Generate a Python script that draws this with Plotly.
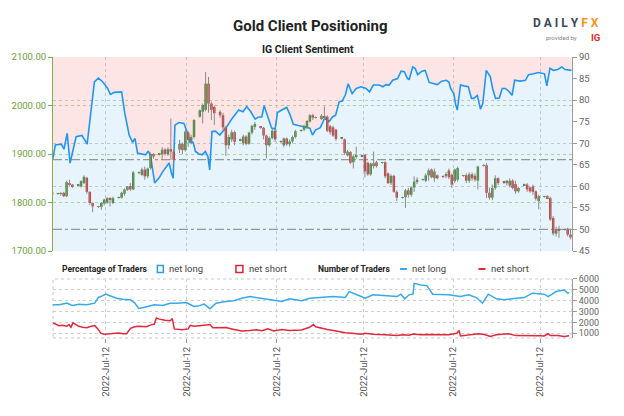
import pandas as pd
import plotly.graph_objects as go

FONT = "Roboto, Lato, sans-serif"

# ---------------- data ----------------
start_session = "2022-01-14"
end_session = "2022-07-12"

opens = [1821,
 1818,1818,1820,1813,1840,1837,
 1836,1833,1840,1851,1822,1799,
 1791,1791,1798,1800,1807,1799,
 1810,1810,1818,1826,1834,1827,
 1861,1857,1868,1854,1871,1900,
 1899,1900,1909,1900,1910,1905,
 1909,1921,1908,1944,1925,1935,
 1977,1987,1991,2045,2004,1997,
 1987,1980,1955,1918,1930,1945,
 1928,1922,1936,1921,1944,1956,
 1956,1954,1938,1918,1933,1948,
 1926,1918,1932,1920,1926,1935,
 1948,1950,1955,1967,1980,1975,
 1972,1977,1977,1957,1955,1950,
 1932,1930,1897,1904,1883,1895,
 1895,1898,1882,1858,1875,1883,
 1882,1883,1860,1840,1855,1822,
 1810,1811,1825,1816,1831,1843,
 1847,1845,1856,1868,1850,1856,
 1854,1855,1866,1857,1844,1847,
 1855,1856,1845,1858,1855,1845,
 1876,1877,1820,1810,1830,1850,
 1841,1845,1835,1845,1838,1823,
 1836,1837,1831,1833,1823,1803,
 1812,1813,1809,1768,1736,1745,
 1744,1746,1734]

highs = [1824,
 1820,1822,1822,1845,1847,1838,
 1838,1846,1856,1853,1823,1800,
 1793,1801,1808,1811,1811,1812,
 1812,1822,1829,1834,1840,1865,
 1864,1872,1874,1872,1903,1902,
 1902,1914,1912,1914,1973,1908,
 1929,1924,1950,1947,1940,1972,
 1992,2004,2069,2059,2008,2000,
 1990,1985,1958,1940,1950,1948,
 1932,1940,1939,1946,1960,1966,
 1958,1956,1940,1936,1952,1951,
 1928,1934,1934,1930,1938,1950,
 1951,1960,1970,1982,1983,1977,
 1982,1998,1980,1960,1958,1952,
 1934,1932,1908,1906,1898,1915,
 1897,1900,1884,1882,1905,1886,
 1884,1885,1862,1858,1857,1825,
 1812,1828,1830,1834,1854,1852,
 1849,1860,1870,1870,1870,1858,
 1856,1863,1870,1860,1870,1874,
 1857,1860,1862,1862,1860,1876,
 1879,1881,1831,1837,1856,1852,
 1845,1846,1850,1848,1845,1832,
 1839,1840,1833,1837,1825,1816,
 1814,1815,1812,1772,1750,1752,
 1746,1748,1745]

lows = [1813,
 1816,1814,1811,1811,1833,1830,
 1834,1831,1838,1818,1795,1780,
 1789,1785,1794,1797,1792,1797,
 1808,1808,1814,1824,1824,1825,
 1858,1855,1847,1850,1868,1890,
 1897,1888,1897,1896,1888,1883,
 1902,1900,1905,1915,1920,1932,
 1975,1963,1988,1985,1970,1960,
 1975,1950,1896,1910,1925,1918,
 1926,1918,1918,1919,1940,1950,
 1952,1930,1891,1915,1930,1925,
 1922,1914,1917,1915,1922,1932,
 1946,1947,1952,1965,1970,1973,
 1970,1970,1945,1940,1935,1927,
 1930,1898,1895,1879,1870,1890,
 1893,1852,1855,1855,1870,1872,
 1880,1850,1838,1836,1820,1803,
 1808,1789,1810,1812,1822,1838,
 1845,1842,1845,1850,1843,1848,
 1850,1850,1848,1830,1840,1843,
 1853,1840,1840,1845,1843,1827,
 1874,1809,1806,1805,1826,1836,
 1838,1835,1831,1827,1818,1820,
 1834,1822,1820,1816,1804,1786,
 1810,1807,1762,1732,1730,1727,
 1742,1730,1724]

closes = [1816,
 1818,1818,1813,1842,1838,1832,
 1837,1844,1853,1822,1799,1792,
 1791,1799,1806,1809,1806,1809,
 1811,1820,1827,1833,1827,1862,
 1862,1868,1854,1870,1900,1895,
 1900,1909,1900,1910,1905,1888,
 1921,1908,1946,1929,1935,1970,
 1990,2001,2045,2004,1991,1984,
 1980,1955,1918,1935,1945,1925,
 1930,1936,1921,1944,1958,1962,
 1954,1938,1918,1933,1948,1930,
 1925,1932,1920,1926,1935,1947,
 1949,1958,1968,1980,1975,1976,
 1979,1976,1948,1945,1938,1931,
 1932,1902,1905,1882,1895,1898,
 1895,1864,1858,1880,1881,1875,
 1882,1854,1840,1855,1822,1810,
 1811,1825,1816,1831,1843,1847,
 1847,1856,1866,1852,1864,1850,
 1853,1857,1852,1837,1868,1871,
 1856,1845,1858,1850,1847,1874,
 1877,1820,1810,1830,1850,1840,
 1842,1840,1845,1830,1823,1830,
 1837,1827,1823,1822,1808,1813,
 1813,1809,1765,1736,1745,1742,
 1744,1734,1728]

# IG client sentiment: % of traders net long (days since 2022-01-14)
long_pct_day = [0.8,1.6,3.7,4.6,5.7,6.7,8.8,10.8,12.6,14.0,
 15.1,16.5,18.0,19.7,20.6,22.0,24.5,25.6,27.1,28.3,
 29.1,30.0,31.7,32.8,33.7,34.5,35.9,37.4,38.6,39.7,
 40.9,41.7,42.3,42.9,44.3,46.0,47.2,48.1,49.2,50.0,
 51.2,52.3,53.4,54.3,54.9,55.7,56.9,58.4,60.0,61.1,
 62.6,64.9,66.4,67.7,69.1,70.6,71.8,72.9,73.7,75.2,
 76.3,77.5,78.3,79.8,81.5,82.6,83.8,85.5,87.8,89.5,
 90.4,91.5,93.1,94.6,96.1,97.3,98.4,99.6,100.7,101.8,
 102.7,104.1,105.5,107.2,108.9,110.1,111.4,113.5,114.7,115.8,
 116.9,118.1,119.8,121.0,122.1,123.2,123.8,125.0,125.9,126.7,
 128.2,129.3,130.7,132.4,133.5,135.0,136.6,137.5,138.1,139.2,
 139.8,140.4,141.5,142.7,144.2,145.3,146.1,147.3,148.4,149.2,
 150.4,151.8,152.6,153.6,154.9,155.9,157.0,158.1,159.3,160.2,
 162.1,163.9,165.0,166.7,168.4,170.5,171.3,172.4,173.6,175.1,
 176.5,177.6,179.0,179.8]
long_pct = [66.4,69.6,69.8,68.6,72.3,65.4,71.5,71.8,69.8,78.1,
 84.2,85.1,84.2,82.7,81.3,81.8,81.9,76.9,71.9,70.2,
 71.1,67.7,67.5,67.3,68.2,67.1,60.8,61.9,63.3,64.2,
 65.4,63.1,61.9,74.2,74.8,74.6,72.5,70.2,70.2,68.1,
 67.5,67.3,68.1,66.9,63.8,72.7,72.8,71.9,73.1,74.1,
 75.7,77.7,77.3,78.5,77.3,75.6,76.1,76.1,78.7,75.8,
 73.5,73.3,77.1,77.7,78.3,76.7,74.4,74.1,73.7,73.5,
 71.9,73.1,73.6,75.8,75.0,76.1,76.5,79.6,79.8,81.3,
 83.8,81.5,82.7,83.1,82.7,81.9,83.5,83.5,83.1,83.6,
 83.5,84.6,85.0,86.7,86.6,85.0,84.8,87.7,87.3,85.9,
 86.7,86.9,84.1,83.8,83.6,84.4,84.6,84.2,82.7,81.5,
 79.0,77.7,83.5,83.3,83.1,80.4,80.4,81.1,77.9,79.2,
 86.9,85.4,82.7,80.4,80.5,82.7,82.7,82.1,81.1,84.6,
 84.4,84.6,85.9,86.1,86.4,86.1,83.3,87.4,86.9,87.1,
 87.7,87.1,86.9,86.9]

# Number of traders
net_long_day = [0.8,2.9,4.2,5.6,7.0,7.7,9.7,12.5,15.2,16.5,
 17.3,19.1,20.0,22.8,24.8,27.6,29.0,30.3,31.0,33.1,
 35.8,38.6,41.3,43.4,46.8,49.5,50.9,53.0,55.0,57.1,
 60.5,63.3,66.0,68.8,72.9,77.0,79.8,82.5,86.6,89.4,
 93.5,97.6,101.7,103.1,107.2,108.6,111.3,115.4,119.6,120.9,
 122.3,123.7,125.1,125.5,127.8,129.9,131.9,137.4,141.5,144.3,
 147.0,149.1,151.1,153.9,156.6,160.8,163.5,166.3,170.4,171.8,
 174.5,177.3,178.6,179.0]
net_long = [3620,3620,3700,3780,3600,3560,3680,3620,3770,4300,
 4380,4600,4500,4230,4140,4080,3800,3320,3300,3470,
 3620,3560,3770,3770,3830,3470,3500,3680,3260,3770,
 3930,3990,4230,4380,4230,4080,3930,4170,3990,4230,
 4290,4380,4290,4840,4380,4230,4540,4480,4380,4600,
 4170,4540,4600,5600,5450,5390,4600,4540,4380,4540,
 4290,3770,4600,4170,4080,4230,4290,4690,4600,4380,
 4840,4990,4690,4780]

net_short_day = [0.8,2.9,4.2,5.6,6.3,7.0,7.7,8.4,9.7,11.1,
 12.5,14.0,15.2,16.3,17.3,18.5,20.8,23.5,25.0,26.2,
 27.6,29.0,30.3,33.1,34.4,35.8,36.5,37.5,39.5,41.3,
 42.0,42.7,45.4,47.5,48.2,49.5,51.5,53.0,55.0,56.0,
 57.8,60.5,63.3,66.0,68.8,71.0,72.9,75.0,77.0,79.8,
 82.5,86.6,89.4,90.7,91.5,93.5,95.5,97.6,100.0,101.7,
 104.0,107.2,108.6,111.3,115.4,119.6,121.5,123.7,125.1,127.8,
 130.0,133.0,137.4,140.2,141.0,141.5,144.3,146.0,147.7,149.8,
 151.8,153.9,156.6,158.0,160.8,164.9,169.0,170.4,171.8,172.5,
 175.0,177.3,179.0]
net_short = [1945,1700,1730,1640,1800,1550,1950,1850,1640,1560,
 1500,1650,1700,1400,1000,900,960,1030,950,960,
 1450,1600,1650,1600,1750,1850,2400,2300,2200,2150,
 2350,1400,1330,1400,1730,1640,1700,1750,1800,1500,
 1490,1520,1350,1200,1250,1330,1240,1400,1200,1350,
 1250,1300,1550,1800,1600,1450,1350,1250,1100,1050,
 1000,900,1000,900,870,780,850,820,920,850,
 880,900,870,1000,1250,750,850,900,950,880,
 700,850,900,950,780,800,760,750,950,780,
 780,700,760]

sentiment_ref_levels = [66.2, 50.0]
month_ticks = ["2022-02-02", "2022-03-02", "2022-04-02", "2022-05-02", "2022-06-02", "2022-07-02"]
tick_labels = ["2022-Jul-12"] * 6
price_ticks = [1700, 1800, 1900, 2000, 2100]
pct_ticks = [45, 50, 55, 60, 65, 70, 75, 80, 85, 90]
count_ticks = [1000, 2000, 3000, 4000, 5000, 6000]

# ---------------- build ----------------
BASE = pd.Timestamp("2022-01-14")
def to_dt(days):
    return [BASE + pd.Timedelta(days=d) for d in days]

sessions = pd.bdate_range(start_session, end_session, freq="C",
                          weekmask="Sun Mon Tue Wed Thu Fri")
n = min(len(sessions), len(opens))
cx = [sessions[i] + pd.Timedelta(hours=12) for i in range(n)]

GREEN = "#3a8a2a"
RED = "#d22f2f"
body_base = [min(opens[i], closes[i]) for i in range(n)]
body_h = [max(abs(closes[i] - opens[i]), 1.3) for i in range(n)]
body_col = [GREEN if closes[i] >= opens[i] else RED for i in range(n)]

wx, wy = [], []
for i in range(n):
    wx += [cx[i], cx[i], None]
    wy += [lows[i], highs[i], None]

xr = ["2022-01-14 19:26", "2022-07-13 00:00"]

fig = go.Figure()
lp_x = to_dt(long_pct_day)
fig.add_trace(go.Scatter(x=lp_x, y=long_pct, stackgroup="pct", mode="lines",
                         line=dict(color="#2196ee", width=1.6),
                         fillcolor="rgba(30,150,230,0.105)", xaxis="x", yaxis="y"))
fig.add_trace(go.Scatter(x=lp_x, y=[100 - v for v in long_pct], stackgroup="pct", mode="lines",
                         line=dict(width=0, color="rgba(0,0,0,0)"),
                         fillcolor="rgba(240,80,80,0.15)", xaxis="x", yaxis="y"))

fig.add_trace(go.Scatter(x=wx, y=wy, mode="lines", line=dict(color="#8a8a8a", width=1),
                         xaxis="x", yaxis="y2", connectgaps=False))
fig.add_trace(go.Bar(x=cx, y=body_h, base=body_base, marker=dict(color=body_col, line=dict(width=0)),
                     width=0.85 * 86400000, xaxis="x", yaxis="y2"))

fig.add_trace(go.Scatter(x=to_dt(net_long_day), y=net_long, mode="lines",
                         line=dict(color="#35aaea", width=1.5), xaxis="x2", yaxis="y3"))
fig.add_trace(go.Scatter(x=to_dt(net_short_day), y=net_short, mode="lines",
                         line=dict(color="#e0283c", width=1.5), xaxis="x2", yaxis="y3"))

GRID = "#cfcfcf"
GTXT = "#6b9f3e"
fig.update_layout(
    width=624, height=416,
    margin=dict(l=50, r=52, t=57, b=78),
    paper_bgcolor="white", plot_bgcolor="white",
    showlegend=False, barmode="overlay",
    font=dict(family=FONT, size=10, color="#555"),
    xaxis=dict(domain=[0, 1], anchor="y", type="date", range=xr, tickvals=month_ticks,
               showticklabels=False, ticks="", showgrid=True, gridcolor=GRID, griddash="dot",
               gridwidth=1, zeroline=False, showline=False, fixedrange=True),
    yaxis=dict(domain=[0.3096, 1], anchor="x", range=[45, 90], side="right",
               tickvals=pct_ticks, ticksuffix="%", showgrid=False, zeroline=False,
               showline=True, linecolor="#9a9a9a", linewidth=1, ticks="outside", ticklen=4,
               tickcolor="#9a9a9a", tickfont=dict(size=9.5, color="#666"),
               minor=dict(tickvals=[60, 70, 80], showgrid=True, gridcolor=GRID,
                          griddash="dot", ticks="")),
    yaxis2=dict(overlaying="y", anchor="x", side="left", range=[1700, 2100],
                tickvals=price_ticks, tickformat=".2f", showgrid=True, gridcolor="#bcd79c",
                griddash="dot", zeroline=False, showline=True, linecolor="#7fb050", linewidth=1,
                ticks="outside", ticklen=4, tickcolor="#7fb050",
                tickfont=dict(size=9.5, color=GTXT)),
    xaxis2=dict(domain=[0, 1], anchor="y3", type="date", range=xr, tickvals=month_ticks,
                ticktext=tick_labels, tickangle=-90, showgrid=True, gridcolor=GRID,
                griddash="dot", ticks="outside", ticklen=4, tickcolor="#999",
                tickfont=dict(size=9.5, color="#555"), zeroline=False, showline=False),
    yaxis3=dict(domain=[0, 0.21], anchor="x2", range=[560, 6000], side="right",
                tickvals=count_ticks, showgrid=True, gridcolor=GRID, griddash="dot",
                zeroline=False, showline=True, linecolor="#9a9a9a", linewidth=1,
                ticks="outside", ticklen=4, tickcolor="#9a9a9a",
                tickfont=dict(size=9, color="#666")),
)

shapes = []
for lvl in sentiment_ref_levels:
    shapes.append(dict(type="line", xref="x domain", yref="y", x0=0, x1=1, y0=lvl, y1=lvl,
                       line=dict(color="#9c9c9c", width=1.3, dash="dashdot"), layer="below"))
shapes.append(dict(type="rect", xref="x2 domain", yref="y3 domain", x0=0, x1=1, y0=0, y1=1,
                   line=dict(color="#c8c8c8", width=1, dash="dot"), layer="below"))
# legend keys
LY0, LY1 = 0.233, 0.258
shapes.append(dict(type="rect", xref="paper", yref="paper", x0=0.2011, x1=0.2126, y0=LY0, y1=LY1,
                   line=dict(color="#2a9de6", width=1.5), fillcolor="white"))
shapes.append(dict(type="rect", xref="paper", yref="paper", x0=0.3525, x1=0.3659, y0=LY0, y1=LY1,
                   line=dict(color="#d4243a", width=1.5), fillcolor="white"))
shapes.append(dict(type="line", xref="paper", yref="paper", x0=0.6686, x1=0.6820, y0=0.2456, y1=0.2456,
                   line=dict(color="#35aaea", width=2)))
shapes.append(dict(type="line", xref="paper", yref="paper", x0=0.8199, x1=0.8333, y0=0.2456, y1=0.2456,
                   line=dict(color="#e0283c", width=2)))
fig.update_layout(shapes=shapes)

ann = []
def A(text, x, y, size, color, xanchor="center", family=FONT):
    ann.append(dict(text=text, x=x, y=y, xref="paper", yref="paper", showarrow=False,
                    xanchor=xanchor, yanchor="middle", font=dict(size=size, color=color, family=family)))

A("<b>Gold Client Positioning</b>", 0.496, 1.112, 15, "#222")
A("<b>IG Client Sentiment</b>", 0.492, 1.025, 10.5, "#222")
A("<b>D A I L Y</b> <b><span style='color:#f7941d'>F X</span></b>", 0.9885, 1.120, 12, "#3d4858")
A("provided by", 1.0135, 1.068, 6, "#808080", xanchor="right")
A("<b>IG</b>", 1.0325, 1.068, 9.5, "#e3261c", xanchor="left")

LYL = 0.2456
A("<b>Percentage of Traders</b>", 0.0134, LYL, 8.5, "#222", xanchor="left")
A("net long", 0.2203, LYL, 9.5, "#444", xanchor="left")
A("net short", 0.3736, LYL, 9.5, "#444", xanchor="left")
A("<b>Number of Traders</b>", 0.5077, LYL, 8.5, "#222", xanchor="left")
A("net long", 0.6877, LYL, 9.5, "#444", xanchor="left")
A("net short", 0.8410, LYL, 9.5, "#444", xanchor="left")
fig.update_layout(annotations=ann)

fig.write_html("out.html")
